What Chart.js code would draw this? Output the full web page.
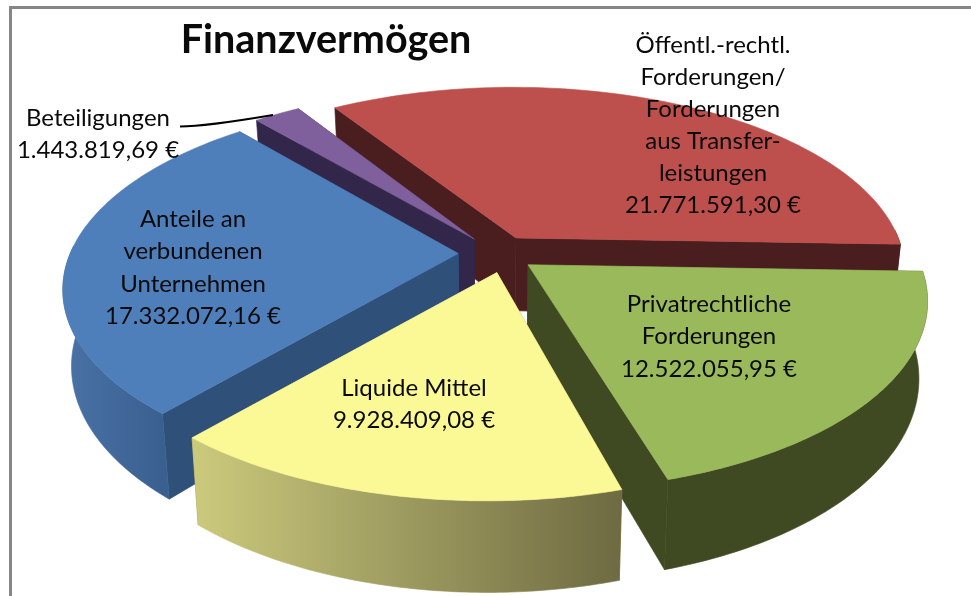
<!DOCTYPE html>
<html>
<head>
<meta charset="utf-8">
<style>
  html, body { margin: 0; padding: 0; background: #fff; }
  #wrap { width: 971px; height: 596px; }
</style>
<script src="https://cdn.jsdelivr.net/npm/chart.js@4"></script>
</head>
<body>
<div id="wrap"><canvas id="chart" width="971" height="596"></canvas></div>
<script>
const categories = ["Öffentl.-rechtl. Forderungen/Forderungen aus Transferleistungen", "Privatrechtliche Forderungen", "Liquide Mittel", "Anteile an verbundenen Unternehmen", "Beteiligungen"];
const values = [21771591.30, 12522055.95, 9928409.08, 17332072.16, 1443819.69];
const valueLabels = ["21.771.591,30 €", "12.522.055,95 €", "9.928.409,08 €", "17.332.072,16 €", "1.443.819,69 €"];
const labelLines = [
  ["Öffentl.-rechtl.", "Forderungen/", "Forderungen", "aus Transfer-", "leistungen"],
  ["Privatrechtliche", "Forderungen"],
  ["Liquide Mittel"],
  ["Anteile an", "verbundenen", "Unternehmen"],
  ["Beteiligungen"]
];
const topColors = ["#bd4f4d", "#9ab95a", "#fbf995", "#4f7fbb", "#7f609c"];
const sideColors = ["#4a1e1e", "#3f4a22", "#8f8c55", "#2f5078", "#32264a"];
const rimStops = [null, null, ["#cbca7c", "#6e6a42"], ["#4a72a6", "#3a6090"], null];
const labelPos = [[713, 45], [709, 304], [414, 388], [193, 219], [98, 118]];
const tipNudge = [[0, 0], [0, 0], [8, 1], [0, 0], [0, 0]];
const drawOrder = [0, 4, 1, 3, 2];

// projection of the tilted pie, fitted by eye
const cx = 497, cy = 253.5, rx = 388, ry = 182, persp = 0.175, depth = 74, taper = 0.02;
const explode = 0.1;

function project(u, v, z) {
  const f = 1 / (1 - persp * v);
  return [cx + rx * u * f * (1 - taper * z), cy + ry * v * f + depth * z * f];
}

function poly(ctx, pts, fill) {
  ctx.beginPath();
  pts.forEach((p, i) => i ? ctx.lineTo(p[0], p[1]) : ctx.moveTo(p[0], p[1]));
  ctx.closePath();
  ctx.fillStyle = fill;
  ctx.fill();
  ctx.strokeStyle = fill;
  ctx.lineWidth = 0.6;
  ctx.stroke();
}

function drawSlice(ctx, arc, i) {
  const mid = (arc.startAngle + arc.endAngle) / 2;
  const tu = explode * Math.cos(mid), tv = explode * Math.sin(mid);
  const steps = 80;
  const top = [], rimTop = [], rimBottom = [];
  const first = [], last = [];
  for (let s = 0; s <= steps; s++) {
    const a = arc.startAngle + (arc.endAngle - arc.startAngle) * s / steps;
    const u = tu + Math.cos(a), v = tv + Math.sin(a);
    top.push(project(u, v, 0));
    if (s === 0) first.push(project(u, v, 0), project(u, v, 1));
    if (s === steps) last.push(project(u, v, 0), project(u, v, 1));
    // only the front part of the outer wall can be seen
    if (Math.sin(a) > -0.05) {
      rimTop.push(project(u, v, 0));
      rimBottom.push(project(u, v, 1));
    }
  }
  const n = tipNudge[i];
  const t0 = project(tu, tv, 0), t1 = project(tu, tv, 1);
  const tip0 = [t0[0] + n[0], t0[1] + n[1]], tip1 = [t1[0] + n[0], t1[1] + n[1]];
  // radial walls
  poly(ctx, [tip0, first[0], first[1], tip1], sideColors[i]);
  poly(ctx, [tip0, last[0], last[1], tip1], sideColors[i]);
  // outer wall
  if (rimTop.length > 1) {
    let rim = sideColors[i];
    if (rimStops[i]) {
      const xs = rimTop.map(p => p[0]);
      rim = ctx.createLinearGradient(Math.min(...xs), 0, Math.max(...xs), 0);
      rim.addColorStop(0, rimStops[i][0]);
      rim.addColorStop(1, rimStops[i][1]);
    }
    poly(ctx, rimTop.concat(rimBottom.slice().reverse()), rim);
  }
  // top face
  poly(ctx, [tip0].concat(top), topColors[i]);
}

function drawText(ctx, lines, x, y, step, font) {
  ctx.font = font;
  ctx.fillStyle = "#0a0a0a";
  ctx.textAlign = "center";
  ctx.textBaseline = "middle";
  lines.forEach((t, k) => ctx.fillText(t, x, y + k * step));
}

const pie3d = {
  id: "pie3d",
  beforeDatasetsDraw(chart) {
    const ctx = chart.ctx;
    const arcs = chart.getDatasetMeta(0).data;
    ctx.save();
    drawOrder.forEach(i => drawSlice(ctx, arcs[i], i));

    // leader line for the small slice
    ctx.beginPath();
    ctx.moveTo(180, 126.5);
    ctx.quadraticCurveTo(205, 126.5, 273, 115);
    ctx.strokeStyle = "#000";
    ctx.lineWidth = 2;
    ctx.stroke();

    labelLines.forEach((lines, i) => {
      const all = lines.concat(valueLabels[i]);
      drawText(ctx, all, labelPos[i][0], labelPos[i][1], i === 0 ? 32 : 32.4, "24px Lato");
    });
    drawText(ctx, ["Finanzvermögen"], 326, 40, 0, "bold 39.5px Lato");

    // chart frame
    ctx.strokeStyle = "#868686";
    ctx.lineWidth = 3;
    ctx.strokeRect(10.5, 7.5, 975, 600);
    ctx.restore();
    return false;
  }
};

new Chart(document.getElementById("chart"), {
  type: "pie",
  data: {
    labels: categories,
    datasets: [{ data: values, backgroundColor: topColors, borderWidth: 0 }]
  },
  options: {
    responsive: false,
    animation: false,
    rotation: -32.4,
    layout: { padding: 0 },
    plugins: { legend: { display: false }, title: { display: false }, tooltip: { enabled: false } }
  },
  plugins: [pie3d]
});
</script>
</body>
</html>
